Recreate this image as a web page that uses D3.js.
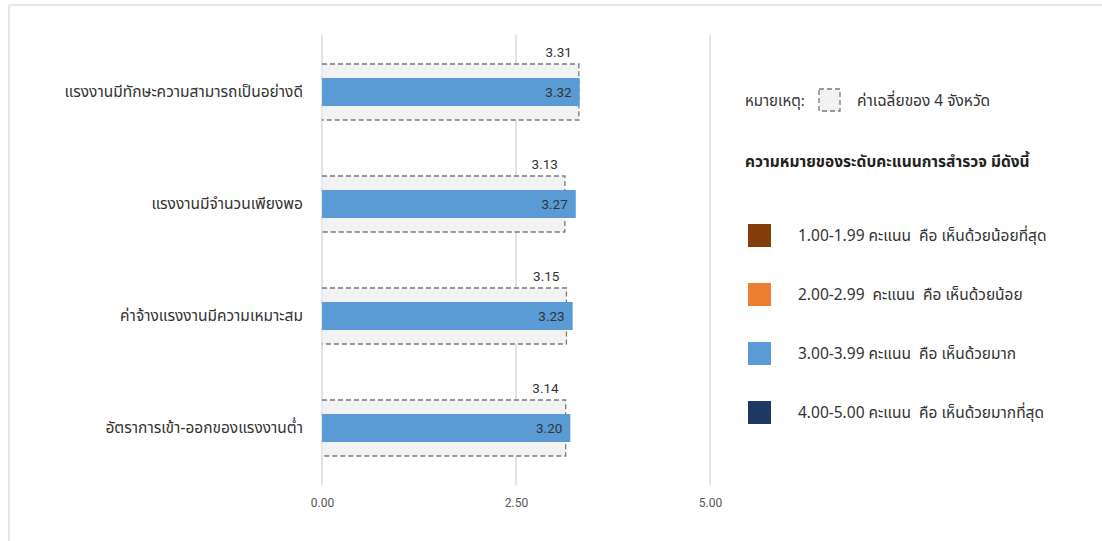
<!DOCTYPE html>
<html><head><meta charset="utf-8">
<script src="https://cdn.jsdelivr.net/npm/d3@7"></script>
<style>
html,body{margin:0;padding:0;background:#fff;}
svg{display:block;font-family:"Noto Sans Thai","Leelawadee UI","Tahoma","Noto Sans",Roboto,sans-serif;}
text{white-space:pre;}
</style></head>
<body>
<svg id="chart" width="1102" height="541"></svg>
<script>
const categories = [
  "แรงงานมีทักษะความสามารถเป็นอย่างดี",
  "แรงงานมีจำนวนเพียงพอ",
  "ค่าจ้างแรงงานมีความเหมาะสม",
  "อัตราการเข้า-ออกของแรงงานต่ำ"
];
const scores = [3.32, 3.27, 3.23, 3.20];
const averages = [3.31, 3.13, 3.15, 3.14];
const tickValues = [0, 2.5, 5];
const noteLabel = "หมายเหตุ:";
const noteText = "ค่าเฉลี่ยของ 4 จังหวัด";
const legendTitle = "ความหมายของระดับคะแนนการสำรวจ มีดังนี้";
const legendLabels = [
  "1.00-1.99 คะแนน  คือ เห็นด้วยน้อยที่สุด",
  "2.00-2.99  คะแนน  คือ เห็นด้วยน้อย",
  "3.00-3.99 คะแนน  คือ เห็นด้วยมาก",
  "4.00-5.00 คะแนน  คือ เห็นด้วยมากที่สุด"
];
const legendColors = ["#843c0c", "#ed7d31", "#5b9bd5", "#1f3864"];

const svg = d3.select("#chart");

// frame
svg.append("line").attr("x1",9).attr("x2",1102).attr("y1",5).attr("y2",5).attr("stroke","#e6e6ee").attr("stroke-width",2);
svg.append("line").attr("x1",9).attr("x2",9).attr("y1",5).attr("y2",541).attr("stroke","#e6e6ee").attr("stroke-width",2);

const x = d3.scaleLinear().domain([0,5]).range([322,710]);
const y = d3.scaleBand().domain(categories).range([36,484]).paddingInner(0).paddingOuter(0);
const bandC = c => y(c) + y.bandwidth()/2;
const barH = 28, boxH = 56;

// gridlines
svg.append("g").selectAll("line").data(tickValues).join("line")
  .attr("x1",d=>x(d)).attr("x2",d=>x(d)).attr("y1",35).attr("y2",485)
  .attr("stroke","#c8c8c8").attr("stroke-width",1);

// axis tick labels
const axis = d3.axisBottom(x).tickValues(tickValues).tickFormat(d3.format(".2f")).tickSize(0).tickPadding(0);
const ag = svg.append("g").attr("transform","translate(0,498)").call(axis);
ag.select(".domain").remove();
ag.selectAll("text").attr("font-size",12).attr("fill","#555").attr("font-family","Roboto, sans-serif");

const rows2 = svg.append("g").selectAll("g").data(categories).join("g");

// average box fill
rows2.append("rect")
  .attr("x",x(0)+0.5).attr("y",c=>bandC(c)-boxH/2)
  .attr("width",(c,i)=>x(averages[i])-x(0)-0.5).attr("height",boxH)
  .attr("fill","#f2f2f2");

// average box dashed outline (top, right, bottom)
rows2.append("path")
  .attr("d",(c,i)=>{
    const x0 = x(0), x1 = x(averages[i]), t = bandC(c)-boxH/2, b = bandC(c)+boxH/2;
    return `M${x0},${t}H${x1}V${b}H${x0}`;
  })
  .attr("fill","none").attr("stroke","#7a7a7a").attr("stroke-width",1.3)
  .attr("stroke-dasharray","5,3");

// bars
rows2.append("rect")
  .attr("x",x(0)).attr("y",c=>bandC(c)-barH/2)
  .attr("width",(c,i)=>x(scores[i])-x(0)).attr("height",barH)
  .attr("fill","#5b9bd5");

// bar values
rows2.append("text")
  .attr("x",(c,i)=>x(scores[i])-8).attr("y",c=>bandC(c)+5)
  .attr("text-anchor","end").attr("font-size",13.5).attr("fill","#333")
  .attr("font-family","Roboto, sans-serif")
  .text((c,i)=>scores[i].toFixed(2));

// average labels
rows2.append("text")
  .attr("x",(c,i)=>x(averages[i])-7).attr("y",c=>bandC(c)-boxH/2-7)
  .attr("text-anchor","end").attr("font-size",13.5).attr("fill","#333")
  .attr("font-family","Roboto, sans-serif")
  .text((c,i)=>averages[i].toFixed(2));

// category labels
rows2.append("text")
  .attr("x",303).attr("y",c=>bandC(c)+5)
  .attr("text-anchor","end").attr("font-size",15.5).attr("fill","#333")
  .text(c=>c);

// legend note
svg.append("text").attr("x",745).attr("y",106).attr("font-size",15).attr("fill","#333").text(noteLabel);
svg.append("rect").attr("x",819).attr("y",89).attr("width",21).attr("height",22)
  .attr("fill","#f2f2f2").attr("stroke","#7a7a7a").attr("stroke-width",1.3).attr("stroke-dasharray","5,3");
svg.append("text").attr("x",857).attr("y",106).attr("font-size",15.5).attr("fill","#333").text(noteText);
svg.append("text").attr("x",745).attr("y",167).attr("font-size",15.5).attr("font-weight","bold").attr("fill","#222").text(legendTitle);

const lg = svg.append("g").selectAll("g").data(legendLabels).join("g")
  .attr("transform",(d,i)=>`translate(748,${224 + i*59})`);
lg.append("rect").attr("width",23).attr("height",23).attr("fill",(d,i)=>legendColors[i]);
lg.append("text").attr("x",50).attr("y",17).attr("font-size",15.5).attr("fill","#333").text(d=>d);
</script>
</body></html>
